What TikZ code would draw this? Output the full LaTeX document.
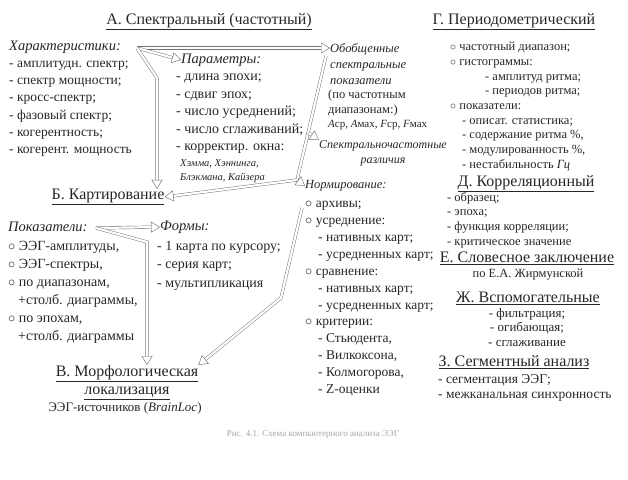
\documentclass[tikz,border=0pt]{standalone}
\usepackage{fontspec}
\setmainfont{Liberation Serif}
\usetikzlibrary{arrows.meta,calc}
\begin{document}
\begin{tikzpicture}[x=1pt,y=-1pt,
  every node/.style={inner sep=0pt, text=black!85},
  head/.style={font=\fontsize{16}{19}\selectfont},
  lab/.style={font=\fontsize{14.5}{16}\selectfont\itshape},
  lst/.style={align=left, anchor=north west},
  harrow/.style={draw=black!55, line width=0.45pt, double=white, double distance=2.2pt,
     -{Triangle[open, length=9pt, width=11pt, line width=0.45pt]}},
  hline/.style={draw=black!55, line width=0.45pt, double=white, double distance=2.2pt}]
\useasboundingbox (0,0) rectangle (628,479);

% ---------- A
\node[head] (hA) at (209,22) {\underline{А. Спектральный (частотный)}};
\node[lab, anchor=west] (char) at (9,47) {Характеристики:};
\node[lst, font=\fontsize{13.5}{17.2}\selectfont] (charl) at (9,61)
  {- амплитудн. спектр;\\- спектр мощности;\\- кросс-спектр;\\- фазовый спектр;\\- когерентность;\\- когерент. мощность};
\node[lab, anchor=west] (par) at (181,60) {Параметры:};
\node[lst, font=\fontsize{14}{17.5}\selectfont] (parl) at (176,74)
  {- длина эпохи;\\- сдвиг эпох;\\- число усреднений;\\- число сглаживаний;\\- корректир. окна:};
\node[lst, font=\fontsize{10.5}{14}\selectfont\itshape] (win) at (180,159)
  {Хэмма, Хэннинга,\\Блэкмана, Кайзера};
\node[lst, font=\fontsize{12.5}{16}\selectfont\itshape] (gen) at (330,43)
  {Обобщенные\\спектральные\\показатели};
\node[lst, font=\fontsize{12.5}{14.5}\selectfont] (gen2) at (328,90)
  {(по частотным\\диапазонам:)};
\node[anchor=west, font=\fontsize{11}{13}\selectfont] (gen3) at (328,125)
  {\textit{A}ср, \textit{A}мах, \textit{F}ср, \textit{F}мах};
\node[align=center, anchor=north, font=\fontsize{12}{15}\selectfont\itshape] (spec) at (383,140)
  {Спектральночастотные\\различия};

% ---------- G
\node[head] (hG) at (514,22) {\underline{Г. Периодометрический}};
\node[lst, font=\fontsize{12.5}{14.7}\selectfont] (gl) at (450,42)
  {$\circ$ частотный диапазон;\\$\circ$ гистограммы:\\\hspace*{35pt}- амплитуд ритма;\\\hspace*{35pt}- периодов ритма;\\$\circ$ показатели:\\\hspace*{12pt}- описат. статистика;\\\hspace*{12pt}- содержание ритма \%,\\\hspace*{12pt}- модулированность \%,\\\hspace*{12pt}- нестабильность \textit{Гц}};
\node[head] (hD) at (526,184) {\underline{Д. Корреляционный}};
\node[lst, font=\fontsize{12.5}{14.7}\selectfont] (dl) at (447,192)
  {- образец;\\- эпоха;\\- функция корреляции;\\- критическое значение};
\node[head] (hE) at (527,258) {\underline{Е. Словесное заключение}};
\node[font=\fontsize{12.5}{15}\selectfont] (el) at (528,275) {по Е.А. Жирмунской};
\node[head] (hZh) at (528,298) {\underline{Ж. Вспомогательные}};
\node[align=center, anchor=north, font=\fontsize{13}{14.5}\selectfont] (zhl) at (527,308)
  {- фильтрация;\\- огибающая;\\- сглаживание};
\node[head] (hZ) at (514,362) {\underline{З. Сегментный анализ}};
\node[lst, font=\fontsize{13.5}{15}\selectfont] (zl) at (438,374)
  {- сегментация ЭЭГ;\\- межканальная синхронность};

% ---------- B
\node[head] (hB) at (108,197) {\underline{Б. Картирование}};
\node[lab, anchor=west] (pok) at (8,227) {Показатели:};
\node[lst, font=\fontsize{14}{18}\selectfont] (pokl) at (8,241)
  {$\circ$ ЭЭГ-амплитуды,\\$\circ$ ЭЭГ-спектры,\\$\circ$ по диапазонам,\\\hspace*{10pt}+столб. диаграммы,\\$\circ$ по эпохам,\\\hspace*{10pt}+столб. диаграммы};
\node[lab, anchor=west] (form) at (160,227) {Формы:};
\node[lst, font=\fontsize{14}{18.5}\selectfont] (forml) at (157,241)
  {- 1 карта по курсору;\\- серия карт;\\- мультипликация};
\node[anchor=west, font=\fontsize{12.5}{16}\selectfont\itshape] (norm) at (305,186) {Нормирование:};
\node[lst, font=\fontsize{13.5}{16.9}\selectfont] (norml) at (305,201)
  {$\circ$ архивы;\\$\circ$ усреднение:\\\hspace*{13pt}- нативных карт;\\\hspace*{13pt}- усредненных карт;\\$\circ$ сравнение:\\\hspace*{13pt}- нативных карт;\\\hspace*{13pt}- усредненных карт;\\$\circ$ критерии:\\\hspace*{13pt}- Стьюдента,\\\hspace*{13pt}- Вилкоксона,\\\hspace*{13pt}- Колмогорова,\\\hspace*{13pt}- Z-оценки};

% ---------- V
\node[head, align=center, anchor=north] (hV) at (127,365)
  {\underline{В. Морфологическая}\\[-1pt]\underline{локализация}};
\node[font=\fontsize{13}{15}\selectfont] (vl) at (125,408) {ЭЭГ-источников (\textit{BrainLoc})};
\node[font=\fontsize{9}{11}\selectfont, text=black!35] (cap) at (313,434) {Рис. 4.1. Схема компьютерного анализа ЭЭГ};

% ---------- connectors
\coordinate (c0) at (137,48);
\coordinate (c1) at (157,78);
\coordinate (j) at (297,180);
\coordinate (g1) at (326,56);
\coordinate (n1) at (302,208);
\coordinate (n2) at (281,298);
\coordinate (p0) at (96,228);
\coordinate (p1) at (147,242);

\draw[harrow] (c0) -- (gen.west |- c0);
\draw[harrow] (c0) -- (par.west);
\draw[harrow] (c0) -- (c1) -- (c1 |- hB.north);
\draw[hline] (g1) -- (j);
\draw[harrow] ($(g1)!0.62!(j)$) -- (spec.north west);
\draw[harrow] (j) -- (hB.east);
\draw[harrow] (j) -- (norm.west);
\draw[harrow] (n1) -- (n2) -- (hV.north east);
\draw[harrow] (p0) -- (form.west);
\draw[harrow] (p0) -- (p1) -- (p1 |- hV.north);
\end{tikzpicture}
\end{document}
